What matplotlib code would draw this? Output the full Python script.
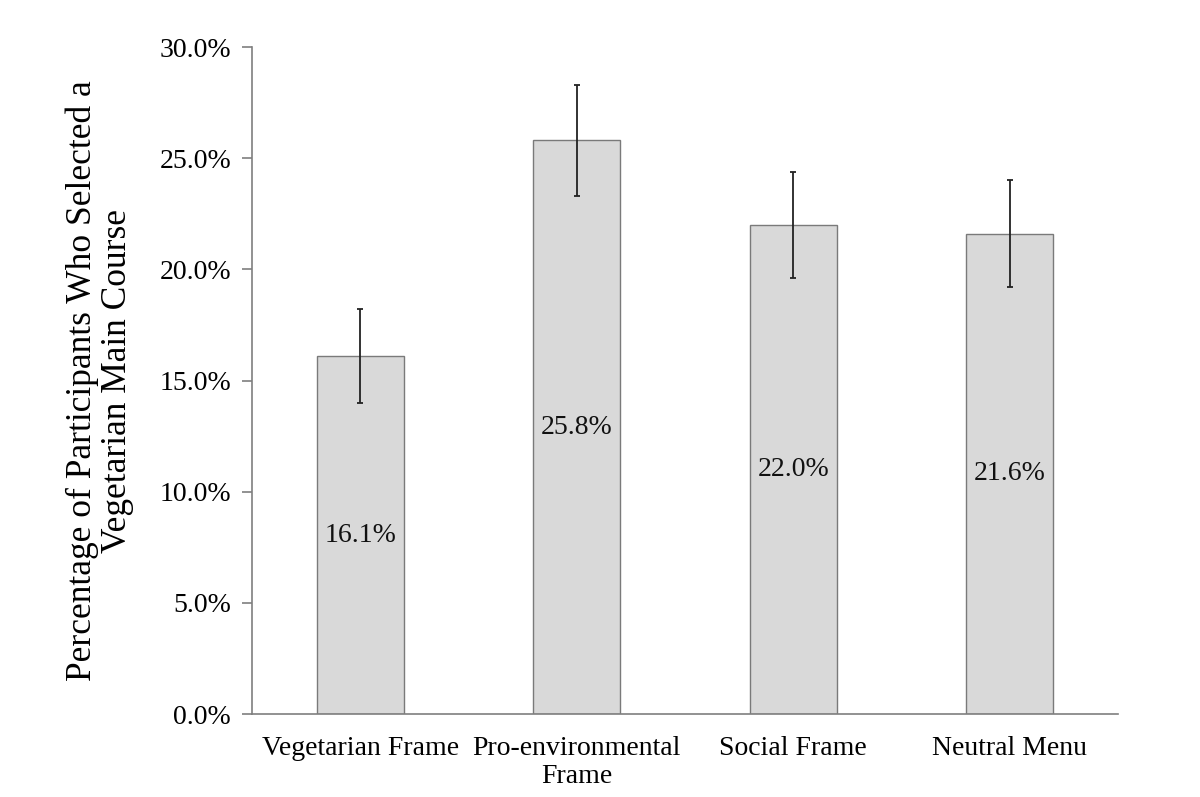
import numpy as np
import matplotlib.pyplot as plt

# data
categories = ["Vegetarian Frame", "Pro-environmental\nFrame", "Social Frame", "Neutral Menu"]
values = [16.1, 25.8, 22.0, 21.6]
err_low = [14.0, 23.3, 19.6, 19.2]
err_high = [18.2, 28.3, 24.4, 24.0]
yticks = [0, 5, 10, 15, 20, 25, 30]

plt.rcParams['font.family'] = ['Liberation Serif', 'DejaVu Serif']

fig = plt.figure(figsize=(12, 7.97), dpi=100)
ax = fig.add_axes([0.21, 0.1041, 0.7217, 0.8369])

x = np.arange(len(categories))
vals = np.array(values)
yerr = [vals - np.array(err_low), np.array(err_high) - vals]

ax.bar(x, vals, width=0.4, color='#d9d9d9', edgecolor='#7a7a7a', linewidth=1.0)
ax.errorbar(x, vals, yerr=yerr, fmt='none', ecolor='#222222', elinewidth=1.3,
            capsize=2, capthick=1.3)

for xi, v in zip(x, vals):
    ax.text(xi, v / 2, f"{v:.1f}%", ha='center', va='center', fontsize=20, color='#111111')

ax.set_xlim(-0.5, len(categories) - 0.5)
ax.set_ylim(0, 30)
ax.set_yticks(yticks)
ax.set_yticklabels([f"{t:.1f}%" for t in yticks], fontsize=20)
ax.set_xticks(x)
ax.set_xticklabels(categories, fontsize=20, linespacing=1.15)
ax.tick_params(axis='x', length=0, pad=16)
ax.tick_params(axis='y', length=7, width=1.2, color='#7f7f7f', pad=8)

for s in ['top', 'right']:
    ax.spines[s].set_visible(False)
for s in ['left', 'bottom']:
    ax.spines[s].set_color('#7f7f7f')
    ax.spines[s].set_linewidth(1.2)

ax.set_ylabel("Percentage of Participants Who Selected a\nVegetarian Main Course",
              fontsize=25.5, linespacing=1.08, labelpad=18)

fig.savefig("out.png", dpi=100)
